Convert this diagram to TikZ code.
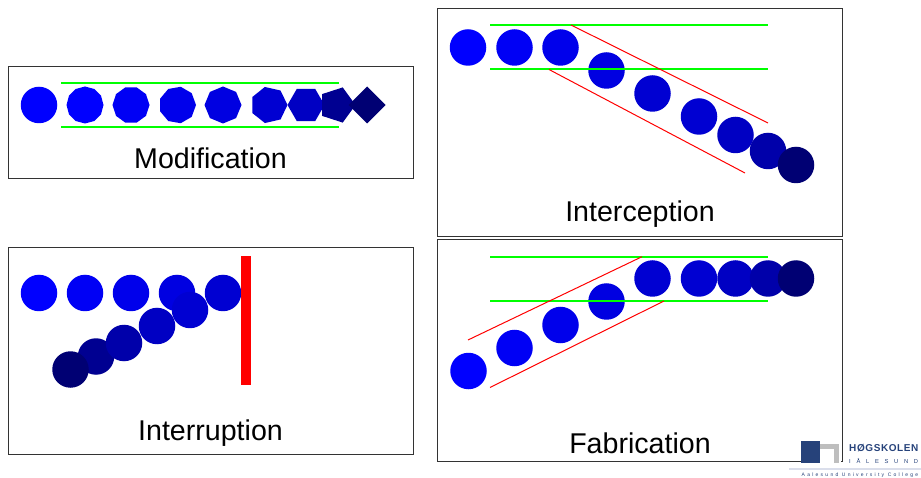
\documentclass[tikz,border=0pt]{standalone}
\usepackage{fontspec}
\setmainfont{Liberation Sans}
\usetikzlibrary{shapes.geometric}
\definecolor{logoblue}{RGB}{38,66,122}
\definecolor{logogray}{RGB}{190,190,190}
\definecolor{logoline}{RGB}{218,222,235}
\definecolor{c0}{RGB}{0,0,255}
\definecolor{c1}{RGB}{0,0,245}
\definecolor{c2}{RGB}{0,0,235}
\definecolor{c3}{RGB}{0,0,225}
\definecolor{c4}{RGB}{0,0,210}
\definecolor{c5}{RGB}{0,0,195}
\definecolor{c6}{RGB}{0,0,170}
\definecolor{c7}{RGB}{0,0,145}
\definecolor{c8}{RGB}{0,0,115}
\begin{document}
\begin{tikzpicture}[x=1pt,y=-1pt,
  frame/.style={draw=black!80,line width=0.8pt},
  ball/.style={circle,minimum size=36.5pt,inner sep=0pt,fill=#1},
  poly/.style={regular polygon,regular polygon sides=#1,minimum size=37pt,inner sep=0pt},
  channel/.style={draw=green,line width=1.6pt},
  detour/.style={draw=red,line width=1pt},
  caption/.style={font=\fontsize{28.6}{30}\selectfont,inner sep=0pt,anchor=base}]
\useasboundingbox (0,0) rectangle (921,478);
% frames
\draw[frame] (8.5,66.5) rectangle (413,178);
\draw[frame] (8.5,247.5) rectangle (413,454);
\draw[frame] (437.5,8.5) rectangle (842,236);
\draw[frame] (437.5,239.5) rectangle (842,461);
% modification
\coordinate (ma) at (61,83);
\coordinate (mb) at (339,83);
\coordinate (mc) at (61,127);
\coordinate (md) at (339,127);
\draw[channel] (ma) -- (mb);
\draw[channel] (mc) -- (md);
\node[ball=c0] (m0) at (39,105) {};
\node[poly=12,fill=c0,rotate=15] (m1) at (85,105) {};
\node[poly=10,fill=c1] (m2) at (131,105) {};
\node[poly=9,fill=c2,rotate=-10] (m3) at (177.5,105) {};
\node[poly=8,fill=c3,rotate=22.5] (m4) at (223,105) {};
\node[poly=7,fill=c4,rotate=13] (m5) at (269,105) {};
\node[poly=6,fill=c5] (m6) at (306,105) {};
\node[poly=5,fill=c7,rotate=-90] (m7) at (337,105) {};
\node[poly=4,fill=c8,rotate=45] (m8) at (367,105) {};
\node[caption] (mt) at (210.5,169) {Modification};
% interruption
\foreach \i/\xx/\col in {0/39/c0,1/85/c1,2/131/c2,3/177/c3,4/223/c4}
  \node[ball=\col] (u\i) at (\xx,293) {};
\foreach \i/\xx/\yy/\col in {5/96/356.5/c7,6/124/343/c6,7/157/326/c5,8/190/310/c4,9/70.5/369.5/c8}
  \node[ball=\col] (u\i) at (\xx,\yy) {};
\fill[red] (241,256) rectangle (251,385);
\node[caption] (ut) at (210.5,440) {Interruption};
% interception
\coordinate (ia) at (490,25);
\coordinate (ib) at (768,25);
\coordinate (ic) at (490,69);
\coordinate (id) at (768,69);
\coordinate (ie) at (571,25);
\coordinate (if) at (768,123);
\coordinate (ig) at (549,69.5);
\coordinate (ih) at (745,173);
\foreach \i/\xx/\yy/\col in {0/468/47.5/c0,1/514.5/47.5/c1,2/560.5/47.5/c2,3/606.5/70.5/c3,4/652.5/93.5/c4,5/699/116.5/c4,6/735.5/135/c5,7/768/151/c6,8/796/165/c8}
  \node[ball=\col] (i\i) at (\xx,\yy) {};
\draw[channel] (ia) -- (ib);
\draw[channel] (ic) -- (id);
\draw[detour] (ie) -- (if);
\draw[detour] (ig) -- (ih);
\node[caption] (it) at (640,222) {Interception};
% fabrication
\coordinate (fa) at (490,257);
\coordinate (fb) at (768,257);
\coordinate (fc) at (490,301);
\coordinate (fd) at (768,301);
\coordinate (fe) at (468,340);
\coordinate (ff) at (642,256.7);
\coordinate (fg) at (490,387.5);
\coordinate (fh) at (664,301);
\foreach \i/\xx/\yy/\col in {0/468.5/371/c0,1/514.5/348/c1,2/560.5/325/c2,3/606.5/301.5/c3,4/652.5/278.5/c4,5/699/278.5/c4,6/735.5/278.5/c5,7/768/278.5/c6,8/796/278.5/c8}
  \node[ball=\col] (f\i) at (\xx,\yy) {};
\draw[channel] (fa) -- (fb);
\draw[channel] (fc) -- (fd);
\draw[detour] (fe) -- (ff);
\draw[detour] (fg) -- (fh);
\node[caption] (ft) at (640,453) {Fabrication};
% logo
\fill[white] (801,450) rectangle (841.4,463);
\draw[logogray,line width=5pt] (815,446.5) -- (836.5,446.5) -- (836.5,463);
\fill[logoblue] (801,441) rectangle (820,463);
\draw[logoline,line width=1.5pt] (789,469) -- (921,469);
\node[font=\fontsize{10}{11}\selectfont\bfseries\addfontfeature{LetterSpace=6},text=logoblue,anchor=base west,inner sep=0pt] (lname) at (849,451.5) {HØGSKOLEN};
\node[font=\fontsize{5.8}{7}\selectfont,text=logoblue,anchor=base west,inner sep=0pt] (lcity) at (849,463) {I\hspace{5.7pt}Å\hspace{5.7pt}L\hspace{5.7pt}E\hspace{5.7pt}S\hspace{5.7pt}U\hspace{5.7pt}N\hspace{5.7pt}D};
\node[font=\fontsize{5}{6}\selectfont\addfontfeature{LetterSpace=45},text=logoblue,anchor=base,inner sep=0pt] (lcollege) at (860,476.5) {Aalesund University College};
\end{tikzpicture}
\end{document}
